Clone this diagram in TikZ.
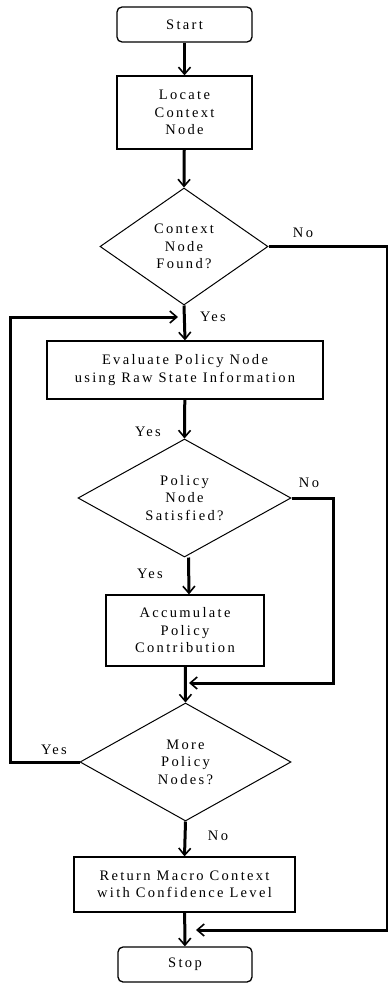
\documentclass[tikz,border=0pt]{standalone}
\usepackage{fontspec}
\setmainfont{Liberation Serif}[LetterSpace=16]
\usetikzlibrary{shapes.geometric,arrows.meta}
\begin{document}
\begin{tikzpicture}[x=1pt,y=-1pt,
  every node/.style={font=\fontsize{14.5}{17.5}\selectfont},
  proc/.style={draw,line width=1.3pt,align=center,inner sep=0pt},
  term/.style={proc,rounded corners=5pt},
  dec/.style={draw,diamond,line width=1pt,inner sep=0pt},
  txt/.style={align=center,inner sep=0pt},
  conn/.style={line width=3pt,-{Straight Barb[length=7pt,width=12pt,line width=1.6pt]}},
  flow/.style={line width=3pt}]
\useasboundingbox (0,0) rectangle (388,983);

% terminals and process boxes
\node[term,minimum width=135pt,minimum height=35pt] (start) at (184.5,24.5) {Start};
\node[proc,minimum width=135pt,minimum height=73pt] (locate) at (184.5,112.5) {Locate\\Context\\Node};
\node[proc,minimum width=276pt,minimum height=58pt] (eval) at (185,370) {Evaluate Policy Node\\using Raw State Information};
\node[proc,minimum width=158pt,minimum height=71pt] (acc) at (185,630.5) {Accumulate\\Policy\\Contribution};
\node[proc,minimum width=221pt,minimum height=55pt] (ret) at (184.5,884.5) {Return Macro Context\\with Confidence Level};
\node[term,minimum width=134pt,minimum height=35pt] (stop) at (185,964.5) {Stop};

% decisions
\node[dec,minimum width=168pt,minimum height=117pt] (d1) at (184,246.5) {};
\node[txt] at (d1) {Context\\Node\\Found?};
\node[dec,minimum width=213pt,minimum height=118pt] (d2) at (184.5,498) {};
\node[txt] at (d2) {Policy\\Node\\Satisfied?};
\node[dec,minimum width=211pt,minimum height=118pt] (d3) at (185.5,762) {};
\node[txt] at (d3) {More\\Policy\\Nodes?};

% branch labels
\node[txt] at (303,233) {No};
\node[txt] at (213,317) {Yes};
\node[txt] at (148,432) {Yes};
\node[txt] at (309,483) {No};
\node[txt] at (150,574) {Yes};
\node[txt] at (54,750) {Yes};
\node[txt] at (218,836) {No};

% routing points
\coordinate (r1) at (387,246.5);
\coordinate (r2) at (387,930);
\coordinate (e1) at (196,930);
\coordinate (l1) at (10,762);
\coordinate (l2) at (10,317);
\coordinate (e2) at (178,317);
\coordinate (n1) at (333,498);
\coordinate (n2) at (333,683);
\coordinate (e3) at (189,683);

% main flow
\draw[conn] (start) -- (locate);
\draw[conn] (locate) -- (d1.north);
\draw[conn] (d1.south) -- (eval.north);
\draw[conn] (eval) -- (d2.north);
\draw[conn] ([xshift=4pt]d2.south) -- ([xshift=4pt]acc.north);
\draw[conn] (acc) -- (d3.north);
\draw[conn] (d3.south) -- (ret.north);
\draw[conn] (ret) -- (stop);

% side branches
\draw[conn] (d1.east) -- (r1) -- (r2) -- (e1);
\draw[conn] (d3.west) -- (l1) -- (l2) -- (e2);
\draw[conn] (d2.east) -- (n1) -- (n2) -- (e3);
\end{tikzpicture}
\end{document}
